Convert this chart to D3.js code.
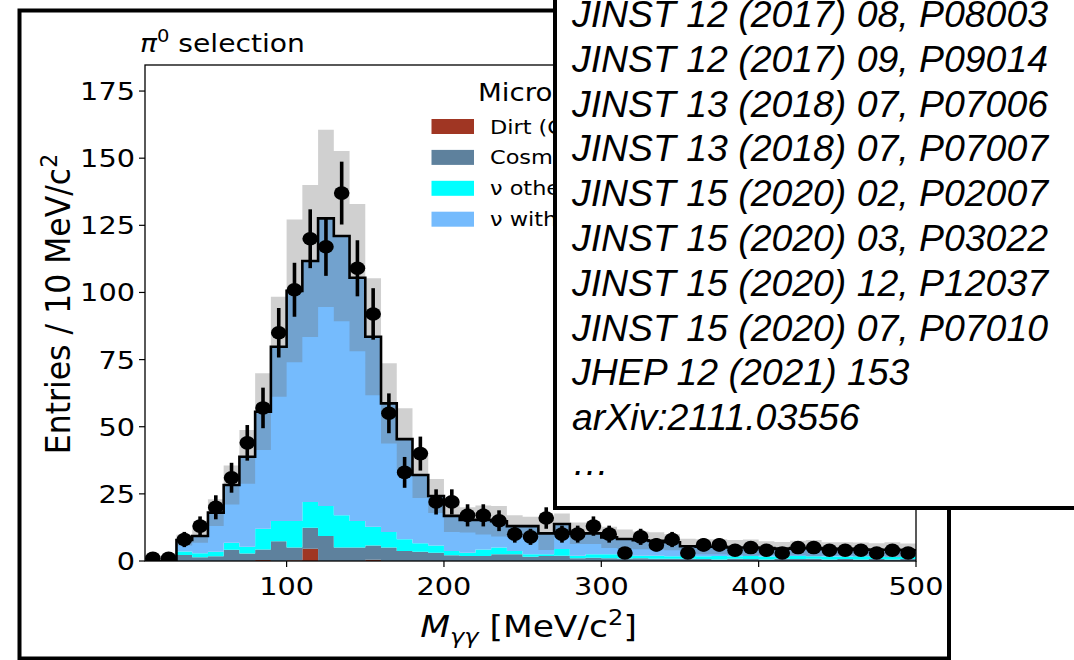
<!DOCTYPE html>
<html>
<head>
<meta charset="utf-8">
<script src="https://cdn.jsdelivr.net/npm/d3@7"></script>
<style>
  html, body { margin: 0; padding: 0; background: #fff; }
  svg { display: block; }
</style>
</head>
<body>
<svg id="chart" width="1074" height="660"></svg>
<script>
// ---- data: diphoton invariant mass, 10 MeV bins from 10 to 500 ----
const binLo = [10,20,30,40,50,60,70,80,90,100,110,120,130,140,150,160,170,180,190,200,
               210,220,230,240,250,260,270,280,290,300,310,320,330,340,350,360,370,380,390,400,
               410,420,430,440,450,460,470,480,490];
const binWidth = 10;

// observed event counts per bin
const dataCounts = [1,1,8,13,20,31,44,57,85,101,120,117,137,109,92,55,33,40,22,22,
                    17,17,15,10,9,16,10,10,13,10,3,9,6,8,3,6,6,4,5,4,
                    3,5,5,4,4,4,3,4,3];

// stacked simulation components (bottom to top)
const dirt    = [0,0,0,0,0,0,0,0.4,0,0.3,4.6,0,0,0,0.5,0,0,0,0,0,
                 0,0,0,0,0,0,0,0,0,0,0,0,0,0,0,0,0,0,0,0,
                 0,0,0,0,0,0,0,0,0];
const cosmic  = [0,0,2.2,1.4,1.8,4.2,2.8,3.9,7.4,4.7,7.8,9.3,5.0,5.0,5.3,5.0,3.7,3.4,3.1,2.1,
                 1.9,1.9,2.5,2.5,1.6,1.9,2.0,1.0,1.2,1.0,0.9,1.0,0.8,0.8,0.8,0.7,0.6,0.8,0.7,0.6,
                 0.8,0.7,0.8,0.6,0.7,0.6,0.7,0.6,0.7];
const nuOther = [0,0,1.3,1.5,1.6,2.6,2.5,7.7,7.5,9.9,9.6,11.2,12.0,9.9,7.0,5.8,4.4,3.2,2.7,1.6,
                 1.2,2.4,2.5,1.2,0.9,0.6,2.5,1.0,1.3,1.5,1.2,1.0,1.2,1.0,1.2,1.1,1.3,1.0,1.2,1.1,
                 1.0,1.2,1.0,1.1,1.0,1.2,1.0,1.0,1.1];
const nuPi0   = [0,0,4.3,6.4,14.6,21.5,33.5,43.6,64.9,85.7,89.7,107.1,104.0,90.6,70.7,47.9,37.3,25.4,18.4,13.1,
                 12.2,11.0,9.8,9.3,10.5,7.8,9.3,8.3,7.8,6.3,6.1,5.7,5.5,5.2,3.5,3.5,3.4,3.2,3.1,3.1,
                 2.8,2.9,3.0,2.8,2.8,2.5,2.5,2.6,2.2];
// total simulation uncertainty per bin
const mcErr   = [0,0,2,2.5,5,7.3,10,14.3,18.6,26.6,28.3,33,31.7,27.4,21.8,14.9,11.5,8.5,6.3,6,
                 4.7,5.4,5.7,4,3.5,6.2,3.9,4,4,4,3.5,3.3,3.2,3,2.8,2.8,2.8,2.8,3,2.6,
                 2.5,2.7,3,2.5,2.5,2.6,2.4,2.8,2.5];

const yTicks = [0,25,50,75,100,125,150,175];
const xTicks = [100,200,300,400,500];

const legendTitle = "MicroBooNE Simulation";
const legendLabels = ["Dirt (Cryostat exterior)", "Cosmic Data", "\u03BD other", "\u03BD with \u03C0\u2070"];
const layerKeys = ["dirt","cosmic","nuOther","nuPi0"];
const layerColors = { dirt: "#a03623", cosmic: "#5e819d", nuOther: "#00ffff", nuPi0: "#75bbfd" };

const references = [
  "JINST 12 (2017) 08, P08003",
  "JINST 12 (2017) 09, P09014",
  "JINST 13 (2018) 07, P07006",
  "JINST 13 (2018) 07, P07007",
  "JINST 15 (2020) 02, P02007",
  "JINST 15 (2020) 03, P03022",
  "JINST 15 (2020) 12, P12037",
  "JINST 15 (2020) 07, P07010",
  "JHEP 12 (2021) 153",
  "arXiv:2111.03556",
  "\u2026"
];

// ---- layout ----
const SX = 1.15;               // horizontal stretch of the figure lettering
const FONT = "'DejaVu Sans', sans-serif";
const plot = { left: 145, right: 916, top: 65, bottom: 561 };
const panelLeft = 555;

const svg = d3.select("#chart");
svg.append("rect").attr("width", 1074).attr("height", 660).attr("fill", "#fff");

const x = d3.scaleLinear().domain([10, 500]).range([plot.left, plot.right]);
const y = d3.scaleLinear().domain([0, 184.7]).range([plot.bottom, plot.top]);

const defs = svg.append("defs");
defs.append("clipPath").attr("id", "plotClip")
  .append("rect")
  .attr("x", plot.left).attr("y", plot.top)
  .attr("width", plot.right - plot.left).attr("height", plot.bottom - plot.top);
// everything left of the publication panel
defs.append("clipPath").attr("id", "leftOfPanel")
  .append("rect")
  .attr("x", 0).attr("y", 0)
  .attr("width", panelLeft - 2).attr("height", 660);

const g = svg.append("g").attr("clip-path", "url(#plotClip)");

// stacked layers
const rows = binLo.map((lo, i) => ({
  lo, dirt: dirt[i], cosmic: cosmic[i], nuOther: nuOther[i], nuPi0: nuPi0[i]
}));
const stacked = d3.stack().keys(layerKeys)(rows);

// repeat the last bin at the upper edge so step curves close at 500
const withEnd = arr => arr.concat([Object.assign({}, arr[arr.length - 1], { edge: true })]);
const edgeX = d => d.edge ? x(d.lo + binWidth) : x(d.lo);

stacked.forEach(layer => {
  const pts = withEnd(layer.map(d => ({ y0: d[0], y1: d[1], lo: d.data.lo })));
  const area = d3.area()
    .curve(d3.curveStepAfter)
    .x(edgeX)
    .y0(d => y(d.y0))
    .y1(d => y(d.y1));
  g.append("path").attr("d", area(pts)).attr("fill", layerColors[layer.key]);
});

// total and its uncertainty band
const totals = binLo.map((lo, i) => ({ lo, t: dirt[i] + cosmic[i] + nuOther[i] + nuPi0[i], e: mcErr[i] }));
const totPts = withEnd(totals);

const band = d3.area()
  .curve(d3.curveStepAfter)
  .x(edgeX)
  .y0(d => y(Math.max(0, d.t - d.e)))
  .y1(d => y(d.t + d.e));
g.append("path").attr("d", band(totPts)).attr("fill", "#6e6e6e").attr("fill-opacity", 0.32);

const stepLine = d3.line()
  .curve(d3.curveStepAfter)
  .x(edgeX)
  .y(d => y(d.t));
g.append("path").attr("d", stepLine(totPts))
  .attr("fill", "none").attr("stroke", "#000").attr("stroke-width", 2.6);

// data points with Poisson error bars
const pts = binLo.map((lo, i) => ({ c: lo + binWidth / 2, n: dataCounts[i] }));
g.selectAll("line.err").data(pts).join("line")
  .attr("class", "err")
  .attr("x1", d => x(d.c)).attr("x2", d => x(d.c))
  .attr("y1", d => y(d.n - Math.sqrt(d.n))).attr("y2", d => y(d.n + Math.sqrt(d.n)))
  .attr("stroke", "#000").attr("stroke-width", 3.6);
g.selectAll("ellipse.pt").data(pts).join("ellipse")
  .attr("class", "pt")
  .attr("cx", d => x(d.c)).attr("cy", d => y(d.n))
  .attr("rx", 6.8 * SX).attr("ry", 6.8)
  .attr("fill", "#000");

// frame of the axes
svg.append("rect")
  .attr("x", plot.left).attr("y", plot.top)
  .attr("width", plot.right - plot.left).attr("height", plot.bottom - plot.top)
  .attr("fill", "none").attr("stroke", "#000").attr("stroke-width", 1.3);

// text helper: lettering is stretched horizontally about its anchor
function label(parent, tx, ty, opts) {
  const o = Object.assign({ size: 25, anchor: "start", rotate: 0, family: FONT, sx: SX }, opts);
  const t = parent.append("text")
    .attr("transform", `translate(${tx},${ty}) scale(${o.sx},1)` + (o.rotate ? ` rotate(${o.rotate})` : ""))
    .attr("text-anchor", o.anchor)
    .attr("font-family", o.family)
    .attr("font-size", o.size)
    .attr("fill", "#000");
  if (o.style) t.attr("font-style", o.style);
  return t;
}

// y axis
const yAxis = svg.append("g");
yTicks.forEach(v => {
  yAxis.append("line")
    .attr("x1", plot.left - 6).attr("x2", plot.left)
    .attr("y1", y(v)).attr("y2", y(v))
    .attr("stroke", "#000").attr("stroke-width", 1.2);
  label(yAxis, plot.left - 10, y(v) + 9, { anchor: "end" }).text(v);
});

// x axis
const xAxis = svg.append("g");
xTicks.forEach(v => {
  xAxis.append("line")
    .attr("x1", x(v)).attr("x2", x(v))
    .attr("y1", plot.bottom).attr("y2", plot.bottom + 6)
    .attr("stroke", "#000").attr("stroke-width", 1.2);
  label(xAxis, x(v), 595, { anchor: "middle" }).text(v);
});

// axis titles
const yl = label(svg, 70, 304, { anchor: "middle", rotate: -90, size: 31.5, sx: 1.05 });
yl.append("tspan").text("Entries / 10 MeV/c");
yl.append("tspan").attr("font-size", 22).attr("dy", -12.5).text("2");

const xl = label(svg, (plot.left + plot.right) / 2 - 2, 637, { anchor: "middle", size: 30 });
xl.append("tspan").attr("font-style", "italic").text("M");
xl.append("tspan").attr("font-style", "italic").attr("font-size", 21).attr("dy", 6.5).text("\u03B3\u03B3");
xl.append("tspan").attr("dy", -6.5).text(" [MeV/c");
xl.append("tspan").attr("font-size", 21).attr("dy", -12).text("2");
xl.append("tspan").attr("dy", 12).text("]");

// plot title
const tt = label(svg, 140, 52, { size: 24.5 });
tt.append("tspan").attr("font-style", "italic").text("\u03C0");
tt.append("tspan").attr("font-size", 17).attr("dy", -10).text("0");
tt.append("tspan").attr("dy", 10).text(" selection");

// legend (its right part sits under the publication panel)
const lg = svg.append("g").attr("clip-path", "url(#leftOfPanel)");
label(lg, 478, 101, { size: 24 }).text(legendTitle);
legendLabels.forEach((name, i) => {
  const cy = 126.5 + i * 30.9;
  lg.append("rect")
    .attr("x", 431.5).attr("y", cy - 7.5)
    .attr("width", 42.5).attr("height", 15)
    .attr("fill", layerColors[layerKeys[i]]);
  label(lg, 490, cy + 7, { size: 19.5 }).text(name);
});

// outer figure border
svg.append("rect")
  .attr("x", 19.5).attr("y", 10.5)
  .attr("width", 929.5).attr("height", 648)
  .attr("fill", "none").attr("stroke", "#000").attr("stroke-width", 4);

// publication list panel
const panel = svg.append("g");
panel.append("rect")
  .attr("x", panelLeft).attr("y", -20)
  .attr("width", 600).attr("height", 528)
  .attr("fill", "#fff").attr("stroke", "#000").attr("stroke-width", 4);
references.forEach((ref, i) => {
  panel.append("text")
    .attr("x", 572).attr("y", 27 + i * 44.8)
    .attr("font-family", "'Liberation Sans', Arial, sans-serif")
    .attr("font-style", "italic")
    .attr("font-size", 37.4)
    .attr("fill", "#000")
    .text(ref);
});
</script>
</body>
</html>
